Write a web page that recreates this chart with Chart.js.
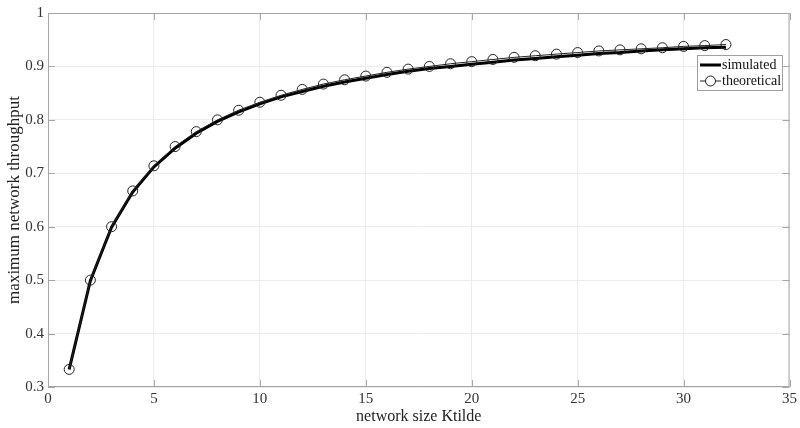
<!DOCTYPE html>
<html>
<head>
<meta charset="utf-8">
<script src="https://cdn.jsdelivr.net/npm/chart.js@4.4.0/dist/chart.umd.min.js"></script>
<style>
  html, body { margin: 0; padding: 0; background: #fff; }
  #wrap { width: 800px; height: 428px; }
</style>
</head>
<body>
<div id="wrap"><canvas id="throughputChart" width="800" height="428"></canvas></div>
<script>
const networkSize = [1,2,3,4,5,6,7,8,9,10,11,12,13,14,15,16,17,18,19,20,21,22,23,24,25,26,27,28,29,30,31,32];
const simulated = [0.333,0.499,0.599,0.665,0.712,0.747,0.775,0.797,0.815,0.830,0.843,0.853,0.863,0.871,0.878,0.885,
                   0.891,0.896,0.900,0.904,0.908,0.912,0.915,0.918,0.921,0.924,0.926,0.929,0.931,0.933,0.935,0.936];
const theoretical = [0.333,0.500,0.600,0.667,0.714,0.750,0.778,0.800,0.818,0.833,0.846,0.857,0.867,0.875,0.882,0.889,
                     0.895,0.900,0.905,0.909,0.913,0.917,0.920,0.923,0.926,0.929,0.931,0.933,0.935,0.9375,0.939,0.941];
const xTicks = [0,5,10,15,20,25,30,35];
const yTicks = [0.3,0.4,0.5,0.6,0.7,0.8,0.9,1];

const serif = "'Liberation Serif', 'Times New Roman', serif";
const axisGray = '#a6a6a6';

// matlab-ish box: inward ticks on all four sides + legend inside the plot
const boxPlugin = {
  id: 'boxPlugin',
  afterDatasetsDraw(chart) {
    const { ctx, chartArea: a, scales } = chart;
    ctx.save();
    ctx.strokeStyle = axisGray;
    ctx.lineWidth = 1;
    ctx.strokeRect(a.left + 0.5, a.top + 0.5, a.right - a.left - 1, a.bottom - a.top - 1);
    ctx.beginPath();
    xTicks.forEach(v => {
      const x = Math.round(scales.x.getPixelForValue(v)) + 0.5;
      ctx.moveTo(x, a.bottom); ctx.lineTo(x, a.bottom - 7);
      ctx.moveTo(x, a.top); ctx.lineTo(x, a.top + 7);
    });
    yTicks.forEach(v => {
      const y = Math.round(scales.y.getPixelForValue(v)) + 0.5;
      ctx.moveTo(a.left, y); ctx.lineTo(a.left + 7, y);
      ctx.moveTo(a.right, y); ctx.lineTo(a.right - 7, y);
    });
    ctx.stroke();

    // legend
    const lx = 697, ly = 55, lw = 85, lh = 35;
    ctx.fillStyle = '#fff';
    ctx.fillRect(lx, ly, lw, lh);
    ctx.strokeStyle = '#a0a0a0';
    ctx.strokeRect(lx + 0.5, ly + 0.5, lw, lh);
    ctx.strokeStyle = '#000';
    ctx.lineWidth = 3;
    ctx.beginPath(); ctx.moveTo(lx + 3, ly + 10); ctx.lineTo(lx + 24, ly + 10); ctx.stroke();
    ctx.lineWidth = 1;
    ctx.strokeStyle = '#222';
    ctx.beginPath(); ctx.moveTo(lx + 3, ly + 26); ctx.lineTo(lx + 24, ly + 26); ctx.stroke();
    ctx.fillStyle = '#fff';
    ctx.beginPath(); ctx.arc(lx + 13.5, ly + 26, 5, 0, Math.PI * 2); ctx.fill(); ctx.stroke();
    ctx.fillStyle = '#111';
    ctx.font = '14px ' + serif;
    ctx.textBaseline = 'middle';
    ctx.fillText('simulated', lx + 25, ly + 10);
    ctx.fillText('theoretical', lx + 25, ly + 26);
    ctx.restore();
  }
};

const ctx = document.getElementById('throughputChart').getContext('2d');
const chart = new Chart(ctx, {
  type: 'line',
  data: {
    datasets: [
      {
        label: 'theoretical',
        data: networkSize.map((k, i) => ({ x: k, y: theoretical[i] })),
        borderColor: '#222',
        borderWidth: 1,
        pointStyle: 'circle',
        pointRadius: 5,
        pointBorderWidth: 1,
        pointBorderColor: '#222',
        pointBackgroundColor: 'rgba(0,0,0,0)',
        tension: 0,
        order: 0
      },
      {
        label: 'simulated',
        data: networkSize.map((k, i) => ({ x: k, y: simulated[i] })),
        borderColor: '#000',
        borderWidth: 3,
        pointRadius: 0,
        tension: 0,
        order: 1
      }
    ]
  },
  options: {
    responsive: false,
    animation: false,
    layout: { padding: { top: 8, right: 9, left: 0, bottom: 0 } },
    plugins: { legend: { display: false }, tooltip: { enabled: false } },
    scales: {
      x: {
        type: 'linear',
        min: 0, max: 35,
        afterBuildTicks: s => { s.ticks = xTicks.map(v => ({ value: v })); },
        afterFit: s => { s.height = 41; },
        grid: { color: '#ececec', drawTicks: false },
        border: { display: false },
        ticks: { color: '#333', font: { family: serif, size: 15 }, padding: 3 },
        title: { display: true, text: 'network size Ktilde', color: '#222', font: { family: serif, size: 16 }, padding: { top: 0, bottom: 2 } }
      },
      y: {
        type: 'linear',
        min: 0.3, max: 1,
        afterBuildTicks: s => { s.ticks = yTicks.map(v => ({ value: v })); },
        afterFit: s => { s.width = 48; },
        grid: { color: '#ececec', drawTicks: false },
        border: { display: false },
        ticks: { color: '#333', font: { family: serif, size: 15 }, padding: 4, callback: v => String(+v.toFixed(1)) },
        title: { display: true, text: 'maximum network throughput', color: '#222', font: { family: serif, size: 17 }, padding: { bottom: 0, top: 4 } }
      }
    }
  },
  plugins: [boxPlugin]
});
</script>
</body>
</html>
